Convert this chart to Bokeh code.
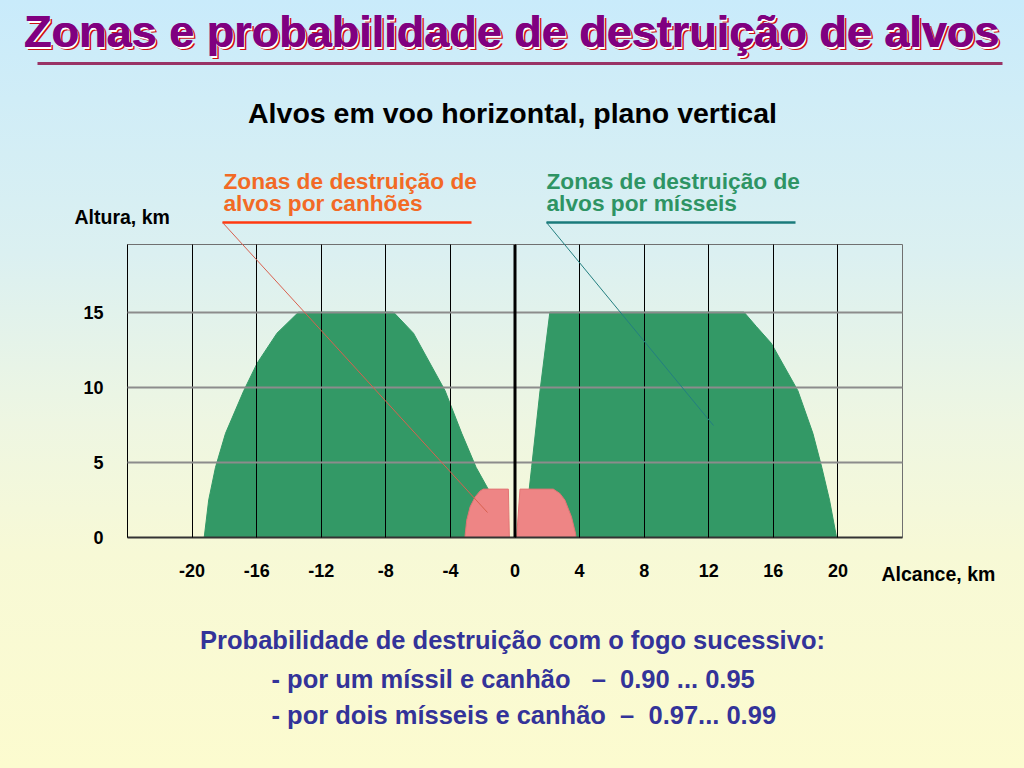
from bokeh.plotting import figure
from bokeh.models import Range1d, Span, GlobalInlineStyleSheet
from bokeh.core.properties import value
from bokeh.embed import file_html
from bokeh.resources import INLINE

# ---------------- data ----------------
x_ticks = [-20, -16, -12, -8, -4, 0, 4, 8, 12, 16, 20]
y_ticks = [0, 5, 10, 15]

# missile zone, negative range side (km range, km height)
left_missile_x = [-19.25, -18.97, -18.55, -17.93, -16.8, -15.97, -14.74, -13.4,
                  -7.53, -6.29, -4.33, -3.3, -2.41, -1.65, -0.5]
left_missile_y = [0, 2.5, 4.67, 6.93, 9.77, 11.6, 13.6, 15,
                  15, 13.6, 9.77, 6.93, 4.67, 3.2, 0]

# missile zone, positive range side
right_missile_x = [0.55, 1.03, 1.55, 2.16, 14.18, 14.95, 15.87, 17.52, 18.45, 19.0, 19.48, 19.89, 19.95]
right_missile_y = [0, 4.67, 9.77, 15, 15, 14.04, 12.93, 9.77, 6.93, 4.67, 2.49, 0.15, 0]

# gun zones
left_gun_x = [-3.1, -3.09, -2.99, -2.78, -2.47, -2.16, -1.96, -0.41, -0.35]
left_gun_y = [0, 0.15, 1.15, 2.04, 2.7, 3.1, 3.22, 3.22, 0]
right_gun_x = [0.1, 0.31, 2.37, 2.78, 3.09, 3.5, 3.75, 3.78]
right_gun_y = [0, 3.22, 3.22, 2.93, 2.49, 1.37, 0.27, 0]

title_text = "Zonas e probabilidade de destruição de alvos"
subtitle_text = "Alvos em voo horizontal, plano vertical"
gun_label = ["Zonas de destruição de", "alvos por canhões"]
missile_label = ["Zonas de destruição de", "alvos por mísseis"]
y_axis_title = "Altura, km"
x_axis_title = "Alcance, km"
NB = "\u00a0"
prob_lines = ["Probabilidade de destruição com o fogo sucessivo:",
              "- por um míssil e canhão" + NB * 3 + "\u2013" + NB * 2 + "0.90 ... 0.95",
              "- por dois mísseis e canhão" + NB * 2 + "\u2013" + NB * 2 + "0.97... 0.99"]

# ---------------- layout helpers (page pixels -> data) ----------------
W, H = 1024, 768
FL, FR, FT, FB = 127, 902, 244, 537
X0, X1, Y0, Y1 = -24, 24, 0, 19.5


def dx(px):
    return X0 + (px - FL) / (FR - FL) * (X1 - X0)


def dy(py):
    return Y0 + (FB - py) / (FB - FT) * (Y1 - Y0)


p = figure(width=W, height=H, output_backend="svg", toolbar_location=None,
           x_range=Range1d(X0, X1), y_range=Range1d(Y0, Y1),
           min_border_left=FL, min_border_right=W - FR,
           min_border_top=FT, min_border_bottom=H - FB)

p.background_fill_alpha = 0
p.border_fill_alpha = 0
p.outline_line_color = "#707070"
p.outline_line_width = 1

p.stylesheets = [GlobalInlineStyleSheet(css=(
    "html { min-height: 100%; background: linear-gradient(180deg, #c9ebfb 0%, #dbf0f1 33%, "
    "#eef6e2 55%, #f7f9d6 72%, #fcfbcf 100%) fixed; } body { background: transparent; }"))]

# axes
p.xaxis.ticker = x_ticks
p.yaxis.ticker = y_ticks
p.xaxis.major_label_overrides = {t: str(t) for t in x_ticks}
p.yaxis.major_label_overrides = {t: str(t) for t in y_ticks}
for ax in (p.xaxis[0], p.yaxis[0]):
    ax.major_tick_line_color = None
    ax.minor_tick_line_color = None
    ax.major_tick_out = 0
    ax.major_tick_in = 0
    ax.major_label_text_font = "Liberation Sans"
    ax.major_label_text_font_style = "bold"
    ax.major_label_text_font_size = "18px"
    ax.major_label_text_color = "black"
p.xaxis.axis_line_color = "#333333"
p.xaxis.axis_line_width = 2
p.xaxis.major_label_standoff = 26
p.yaxis.axis_line_color = "black"
p.yaxis.axis_line_width = 1
p.yaxis.major_label_standoff = 24

p.xgrid.grid_line_color = "black"
p.xgrid.grid_line_width = 1
p.ygrid.grid_line_color = "#8c8c8c"
p.ygrid.grid_line_width = 2
p.xgrid.level = "annotation"
p.ygrid.level = "annotation"

# zones
p.patch(left_missile_x, left_missile_y, fill_color="#339966", line_color="#339966", line_width=1)
p.patch(right_missile_x, right_missile_y, fill_color="#339966", line_color="#339966", line_width=1)
p.patch(left_gun_x, left_gun_y, fill_color="#ee8585", line_color="#e27575", line_width=1)
p.patch(right_gun_x, right_gun_y, fill_color="#ee8585", line_color="#e27575", line_width=1)

p.add_layout(Span(location=0, dimension="height", line_color="black", line_width=3))

# leader lines and underlines (overlay level, so they may leave the frame)
p.segment(x0=[dx(222), dx(546)], y0=[dy(222), dy(222)], x1=[dx(471), dx(795)], y1=[dy(222), dy(222)],
          line_color=["#ff3a10", "#1a7b7b"], line_width=2.5, level="overlay")
p.segment(x0=[dx(222), dx(546)], y0=[dy(222), dy(222)], x1=[dx(487), dx(713)], y1=[dy(512), dy(425)],
          line_color=["#d8604f", "#237f80"], line_width=1, level="overlay")
p.segment(x0=[dx(37)], y0=[dy(63)], x1=[dx(1002)], y1=[dy(63)],
          line_color="#993366", line_width=3, level="overlay")


def txt(px, base, s, size, color, align="left", bold=True, **kw):
    # place text so that its alphabetic baseline lands at page row `base`
    mid = base - 0.3465 * size
    p.text(x=[dx(px)], y=[dy(mid)], text=[s], text_align=align, text_baseline="middle",
           text_font=value("Liberation Sans"), text_font_style="bold" if bold else "normal",
           text_font_size=value(f"{size}px"), text_color=color, level="overlay", **kw)


# title with white rim and red shadow
txt(514, 50, title_text, 45, "#cc1111", align="center")
txt(512.5, 48.5, title_text, 45, "white", align="center")
txt(511, 47, title_text, 45, "#800080", align="center")
txt(511.6, 47, title_text, 45, "#800080", align="center")

# subtitle
txt(512, 122, subtitle_text, 28.5, "black", align="center")

# zone labels
for i, t in enumerate(gun_label):
    txt(223, 188 + 22 * i, t, 22.7, "#f26a25")
for i, t in enumerate(missile_label):
    txt(546, 188 + 22 * i, t, 22.7, "#2e9464")

# axis titles
txt(74, 223, y_axis_title, 19.5, "black")
txt(881, 580, x_axis_title, 19.5, "black")

# probability text
txt(512, 648, prob_lines[0], 25.5, "#333399", align="center")
for i, t in enumerate(prob_lines[1:]):
    txt(271, 687 + 36 * i, t, 25.5, "#333399")

open("out.html", "w").write(file_html(p, INLINE))
